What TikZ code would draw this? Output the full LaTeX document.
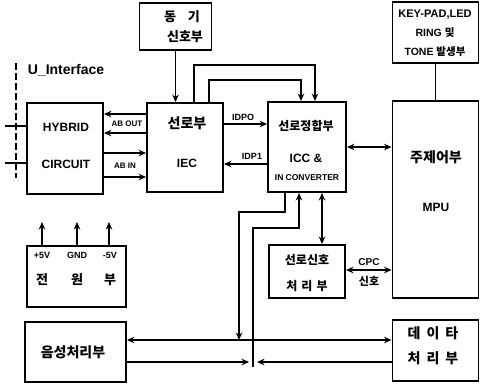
\documentclass[tikz,border=0pt]{standalone}
\usepackage{fontspec}
\setmainfont{Liberation Sans}
\newfontfamily\kr{Noto Sans CJK KR}
\usetikzlibrary{arrows.meta}
\begin{document}
\begin{tikzpicture}[x=1pt,y=-1pt,
  blk/.style={draw, line width=1.9pt, inner sep=0pt, minimum width=#1},
  blk/.default=80pt,
  lat/.style={font=\bfseries\fontsize{#1}{#1}\selectfont, inner sep=0pt},
  lat/.default=12,
  kor/.style={font=\kr\bfseries\fontsize{#1}{#1}\selectfont, inner sep=0pt},
  kor/.default=13,
  con/.style={line width=1.5pt},
  arr/.style={con, -{Stealth[length=7.5pt,width=6.5pt]}},
  darr/.style={con, {Stealth[length=7.5pt,width=6.5pt]}-{Stealth[length=7.5pt,width=6.5pt]}},
]
\useasboundingbox[fill=white] (0,0) rectangle (480,386);

% boxes
\node[blk=72pt, minimum height=47pt] (sync) at (175.5,26.5) {};
\node[blk=86pt, minimum height=61pt] (key) at (435.5,32.5) {};
\node[blk=76pt, minimum height=91pt] (hyb) at (65,148.5) {};
\node[blk=76pt, minimum height=89pt] (iec) at (185,147.5) {};
\node[blk=78pt, minimum height=90pt] (icc) at (307,147) {};
\node[blk=86pt, minimum height=197pt] (mpu) at (435.5,199.5) {};
\node[blk=76pt, minimum height=53pt] (lin) at (307,271.5) {};
\node[blk=99pt, minimum height=61pt] (pwr) at (76.5,276.5) {};
\node[blk=101pt, minimum height=60pt] (voice) at (75.5,352) {};
\node[blk=86pt, minimum height=61pt] (data) at (435.5,350.5) {};

% texts
\node[kor=13] (t1) at (182,17) {동\hspace{12pt}기};
\node[kor=13] (t2) at (185,37) {신호부};
\node[lat=11] (t3) at (435,15) {KEY-PAD,LED};
\node[kor=10.5] (t4) at (435,33) {\fontspec{Liberation Sans}\bfseries RING \kr 및};
\node[kor=10.5] (t5) at (435,52) {\fontspec{Liberation Sans}\bfseries TONE \kr 발생부};
\node[lat=14] (t6) at (66,70) {U\_Interface};
\node[lat=12] (t7) at (66,127) {HYBRID};
\node[lat=12] (t8) at (66,164) {CIRCUIT};
\node[kor=14] (t9) at (187,123) {선로부};
\node[lat=12] (t10) at (187,163) {IEC};
\node[kor=12] (t11) at (306,126) {선로정합부};
\node[lat=12] (t12) at (306,158) {ICC \&};
\node[lat=8.5] (t13) at (307,178) {IN CONVERTER};
\node[kor=14] (t14) at (436,157) {주제어부};
\node[lat=12] (t15) at (436,207) {MPU};
\node[kor=12] (t16) at (307,260) {선로신호};
\node[kor=12] (t17) at (307,286) {처\hspace{4pt}리\hspace{4pt}부};
\node[lat=9] (t18) at (42,255) {+5V};
\node[lat=9] (t19) at (77,255) {GND};
\node[lat=9] (t20) at (110,255) {-5V};
\node[kor=13] (t21) at (42,280) {전};
\node[kor=13] (t22) at (77,280) {원};
\node[kor=13] (t23) at (110,280) {부};
\node[kor=14] (t24) at (73,352) {음성처리부};
\node[kor=14] (t25) at (433,333) {데\hspace{6pt}이\hspace{6pt}타};
\node[kor=14] (t26) at (433,358) {처\hspace{6pt}리\hspace{6pt}부};
\node[lat=8] (l1) at (127,124) {AB OUT};
\node[lat=8] (l2) at (125,166) {AB IN};
\node[lat=9] (l3) at (243,117) {IDPO};
\node[lat=9] (l4) at (252,156) {IDP1};
\node[lat=10] (l5) at (369,262) {CPC};
\node[kor=11] (l6) at (369,281) {신호};

% U interface
\coordinate (u1) at (16,63);
\coordinate (u2) at (16,178);
\draw[con, dashed, dash pattern=on 7pt off 3pt] (u1) -- (u2);
\coordinate (w1) at (5,126);
\coordinate (w2) at (5,163);
\draw[con] (w1) -- (hyb.west |- w1);
\draw[con] (w2) -- (hyb.west |- w2);

% top connections
\draw[arr] (sync.south) -- (sync.south |- iec.north);
\draw[arr] (iec.north -| 194,0) -- (194,65) -- (315,65) -- (icc.north -| 315,0);
\draw[arr] (iec.north -| 209,0) -- (209,80) -- (301,80) -- (icc.north -| 301,0);
\draw[con] (key.south) -- (mpu.north);

% AB OUT / AB IN
\draw[arr] (iec.west |- 0,114) -- (hyb.east |- 0,114);
\draw[arr] (iec.west |- 0,133) -- (hyb.east |- 0,133);
\draw[arr] (hyb.east |- 0,153) -- (iec.west |- 0,153);
\draw[arr] (hyb.east |- 0,177) -- (iec.west |- 0,177);

% IDP
\draw[arr] (iec.east |- 0,124) -- (icc.west |- 0,124);
\draw[arr] (icc.west |- 0,164) -- (iec.east |- 0,164);

% ICC - MPU, CPC
\draw[darr] (icc.east |- 0,147) -- (mpu.west |- 0,147);
\draw[darr] (lin.east |- 0,270) -- (mpu.west |- 0,270);
\draw[darr] (icc.south -| 322,0) -- (lin.north -| 322,0);

% power arrows
\draw[arr] (pwr.north -| 42,0) -- (42,222);
\draw[arr] (pwr.north -| 77,0) -- (77,222);
\draw[arr] (pwr.north -| 109,0) -- (109,222);

% bottom connections
\coordinate (j1) at (239,340);
\coordinate (j2) at (253,362);
\coordinate (j2e) at (253,367);
\draw[arr] (icc.south -| 285,0) -- (285,212) -- (239,212) -- (j1);
\draw[arr] (j1) -- (voice.east |- j1);
\draw[arr] (j1) -- (data.west |- j1);
\draw[arr] (j2e) -- (253,228) -- (299,228) -- (icc.south -| 299,0);
\draw[arr] (voice.east |- j2) -- ([xshift=-4pt]j2);
\draw[arr] (data.west |- j2) -- ([xshift=4pt]j2);
\end{tikzpicture}
\end{document}
